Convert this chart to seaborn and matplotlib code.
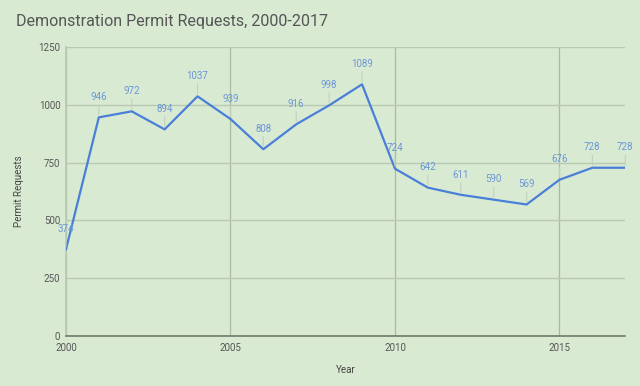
import matplotlib
matplotlib.use("Agg")
import matplotlib.pyplot as plt
import seaborn as sns
import pandas as pd

# data
years = list(range(2000, 2018))
requests = [374, 946, 972, 894, 1037, 939, 808, 916, 998, 1089,
            724, 642, 611, 590, 569, 676, 728, 728]
y_ticks = [0, 250, 500, 750, 1000, 1250]
x_ticks = [2000, 2005, 2010, 2015]

df = pd.DataFrame({"Year": years, "Permit Requests": requests})

bg = "#d9ead3"
line_blue = "#4a7fd9"
label_blue = "#6b96d6"

sns.set_theme(style="white")
plt.rcParams['font.family'] = ['Roboto', 'DejaVu Sans']

fig = plt.figure(figsize=(6.4, 3.86), dpi=100, facecolor=bg)
ax = fig.add_axes([0.103, 0.1295, 0.874, 0.7485])
ax.set_facecolor(bg)

sns.lineplot(data=df, x="Year", y="Permit Requests", color=line_blue,
             linewidth=1.6, ax=ax, zorder=3)

ax.set_xlim(2000, 2017)
ax.set_ylim(0, 1250)
ax.set_yticks(y_ticks)
ax.set_xticks(x_ticks)
ax.grid(axis="y", color="#b9c9b2", linewidth=1)
ax.grid(axis="x", color="#a9b9a2", linewidth=0.9)
ax.set_axisbelow(True)

for side in ["top", "right"]:
    ax.spines[side].set_visible(False)
ax.spines["left"].set_color("#b9c9b2")
ax.spines["bottom"].set_color("#6f7a6b")
ax.spines["bottom"].set_linewidth(1.2)
ax.tick_params(length=0, labelsize=7, colors="#555555")
ax.tick_params(axis="y", pad=4)
ax.tick_params(axis="x", pad=5)

# point labels with small stems
for x, y in zip(years, requests):
    ax.annotate("", xy=(x, y), xytext=(0, 11), textcoords="offset points",
                arrowprops=dict(arrowstyle="-", color="#c0d2bd", lw=0.8),
                annotation_clip=False)
    ax.annotate(str(y), xy=(x, y), xytext=(0, 11), textcoords="offset points",
                ha="center", va="bottom", fontsize=7, color=label_blue,
                annotation_clip=False, zorder=4)

ax.set_xlabel("Year", fontsize=7, color="#444444", labelpad=9)
ax.set_ylabel("Permit Requests", fontsize=7, color="#444444", labelpad=10)

fig.text(0.025, 0.945, "Demonstration Permit Requests, 2000-2017",
         fontsize=11.5, color="#555555", va="center", ha="left")

fig.savefig("out.png", dpi=100, facecolor=bg)
